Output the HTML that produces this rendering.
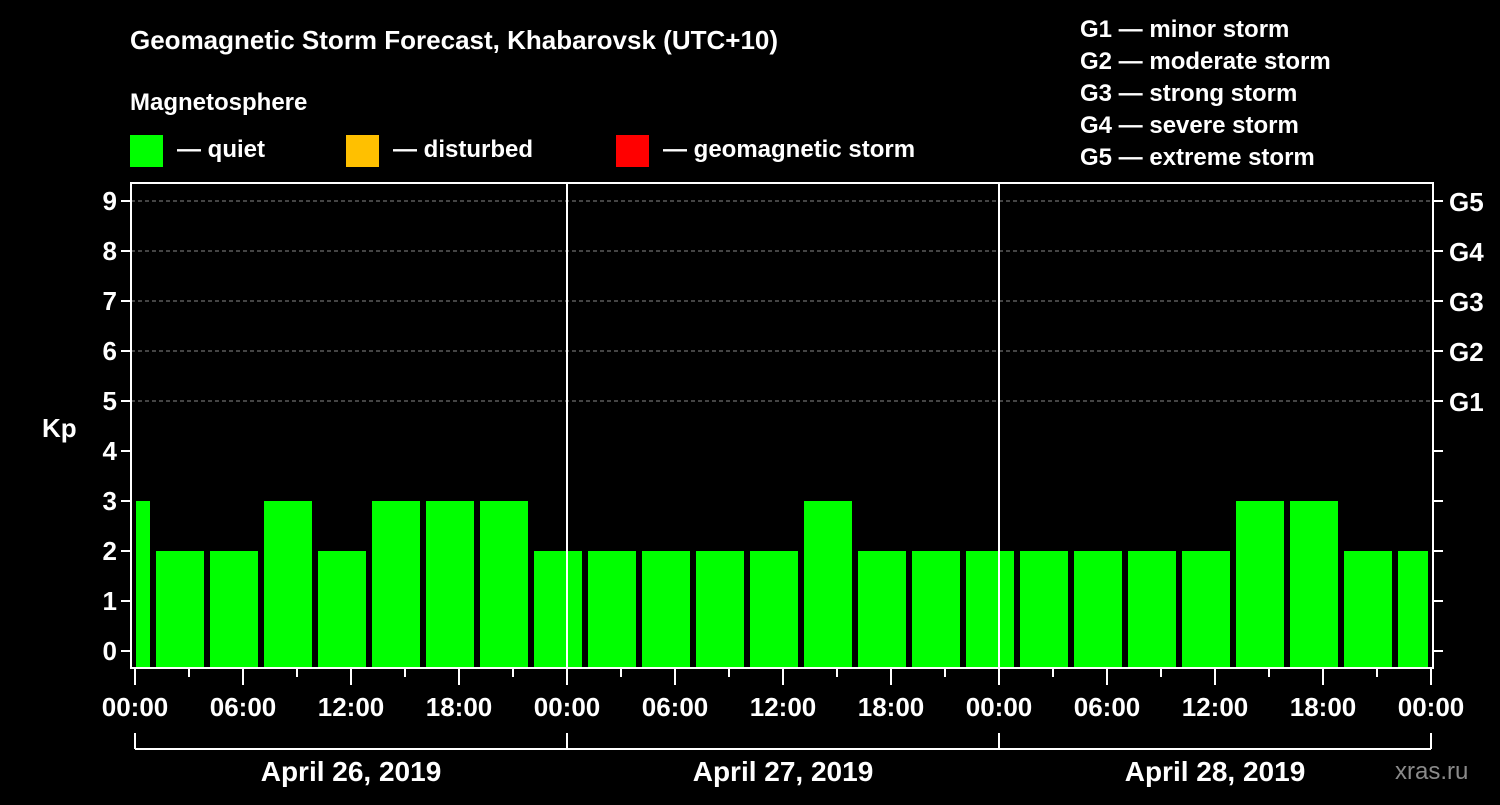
<!DOCTYPE html>
<html><head><meta charset="utf-8"><style>
html,body{margin:0;padding:0;background:#000;}
svg text{font-family:"Liberation Sans",Arial,sans-serif;font-weight:bold;fill:#fff;}
</style></head><body>
<svg id="chart" width="1500" height="800" xmlns="http://www.w3.org/2000/svg">
<rect width="1500" height="800" fill="#000"/>
<text x="130" y="49" font-size="26">Geomagnetic Storm Forecast, Khabarovsk (UTC+10)</text>
<text x="130" y="110" font-size="24">Magnetosphere</text>
<g>
<rect x="130" y="135" width="33" height="32" fill="#00ff00"/>
<text x="177" y="157" font-size="24">— quiet</text>
<rect x="346" y="135" width="33" height="32" fill="#ffc000"/>
<text x="393" y="157" font-size="24">— disturbed</text>
<rect x="616" y="135" width="33" height="32" fill="#ff0000"/>
<text x="663" y="157" font-size="24">— geomagnetic storm</text>
</g>
<g font-size="24">
<text x="1080" y="37">G1 — minor storm</text>
<text x="1080" y="69">G2 — moderate storm</text>
<text x="1080" y="101">G3 — strong storm</text>
<text x="1080" y="133">G4 — severe storm</text>
<text x="1080" y="165">G5 — extreme storm</text>
</g>
<text x="42" y="437" font-size="26">Kp</text>
<text x="1395" y="779" font-size="24" fill="#888" style="fill:#8a8a8a;font-weight:normal">xras.ru</text>
<g id="grid"></g><g id="bars"></g><g id="axes"></g>
</svg>
<script>
const kpValues=[3,2,2,3,2,3,3,3,2,2,2,2,2,3,2,2,2,2,2,2,2,3,3,2,2];
const yTicks=[0,1,2,3,4,5,6,7,8,9];
const gLabels=["G1","G2","G3","G4","G5"];
const hourLabels=["00:00","06:00","12:00","18:00"];
const dayLabels=["April 26, 2019","April 27, 2019","April 28, 2019"];
const NS="http://www.w3.org/2000/svg";
const X0=135,PXH=18,Y0=651,PXK=50,L=131,R=1433,T=183,B=668;
const xs=h=>X0+h*PXH, ys=k=>Y0-k*PXK;
function mk(p,t,a){const e=document.createElementNS(NS,t);for(const k in a)e.setAttribute(k,a[k]);p.appendChild(e);return e;}
const grid=document.getElementById('grid'),bars=document.getElementById('bars'),axes=document.getElementById('axes');
for(let k=5;k<=9;k++){const l=mk(grid,'line',{x1:L,x2:R,y1:ys(k),y2:ys(k),stroke:'#888','stroke-dasharray':'4,3','stroke-width':1});

}
kpValues.forEach((v,i)=>{let x1=xs(-2+3*i)+3,x2=xs(1+3*i)-3;x1=Math.max(x1,L+5);x2=Math.min(x2,R-5);
const c=v>=5?'#ff0000':(v>=4?'#ffc000':'#00ff00');
const r=mk(bars,'rect',{x:x1,y:ys(v),width:x2-x1,height:B-ys(v),fill:c});

});
for(let d=1;d<3;d++){const l=mk(axes,'line',{x1:xs(24*d),x2:xs(24*d),y1:T,y2:B,stroke:'#fff','stroke-width':2});

}
const f=mk(axes,'rect',{x:L,y:T,width:R-L,height:B-T,fill:'none',stroke:'#fff','stroke-width':2});


yTicks.forEach(k=>{mk(axes,'line',{x1:L-10,x2:L,y1:ys(k),y2:ys(k),stroke:'#fff','stroke-width':2});
mk(axes,'line',{x1:R,x2:R+10,y1:ys(k),y2:ys(k),stroke:'#fff','stroke-width':2});
const t=mk(axes,'text',{x:L-14,y:ys(k)+9,'text-anchor':'end','font-size':26});t.textContent=k;

});
gLabels.forEach((g,i)=>{const t=mk(axes,'text',{x:R+16,y:ys(5+i)+10,'font-size':26});t.textContent=g;

});
for(let h=0;h<=72;h+=3){const major=h%6===0;mk(axes,'line',{x1:xs(h),x2:xs(h),y1:B,y2:B+(major?17:9),stroke:'#fff','stroke-width':2});
if(major){const t=mk(axes,'text',{x:xs(h),y:716,'text-anchor':'middle','font-size':26});t.textContent=hourLabels[(h/6)%4];

}}
mk(axes,'line',{x1:xs(0),x2:xs(72),y1:749,y2:749,stroke:'#fff','stroke-width':2});
for(let d=0;d<=3;d++)mk(axes,'line',{x1:xs(24*d),x2:xs(24*d),y1:733,y2:749,stroke:'#fff','stroke-width':2});
dayLabels.forEach((s,d)=>{const t=mk(axes,'text',{x:xs(24*d+12),y:781,'text-anchor':'middle','font-size':28});t.textContent=s;

});
</script>
</body></html>
